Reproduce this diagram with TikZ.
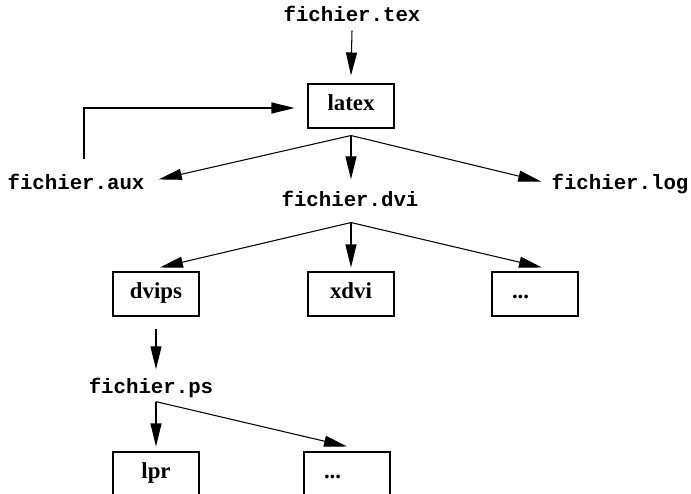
\documentclass[tikz,border=0pt]{standalone}
\usepackage{fontspec}
\setmainfont{Liberation Serif}
\setmonofont{Liberation Mono}
\usetikzlibrary{arrows.meta, positioning, calc}

\begin{document}
\begin{tikzpicture}[x=0.02cm, y=-0.02cm,
        prog/.style={draw, line width=0.6pt, inner sep=0pt, minimum width=1.72cm,
            minimum height=0.88cm, text height=0.7em, text depth=0.2em,
            font=\bfseries\fontsize{13}{15}\selectfont},
        more/.style={prog, text width=0.92cm, align=left, inner xsep=0.4cm},
        file/.style={inner sep=0pt, anchor=base, font=\ttfamily\bfseries\fontsize{11.8}{14}\selectfont},
        arr/.style={-{Triangle[length=0.46cm, width=0.22cm]}, line width=0.6pt}]
    \clip (0,0) rectangle (691,494);
    % compilation
    \node[file] (tex) at (352,21) {fichier.tex};
    \node[prog] (latex) at (351,106) {latex};
    \node[file] (aux) at (76,189) {fichier.aux};
    \node[file] (dvi) at (350,206) {fichier.dvi};
    \node[file] (log) at (620,189) {fichier.log};
    \coordinate (lout) at ([shift={(0,7)}]latex.south);
    \draw[arr] ([shift={(0,9)}]tex.south) -- ([shift={(0,-8)}]latex.north);
    \draw[arr] ([shift={(8,-14)}]aux.north) |- ([shift={(-13,2)}]latex.west);
    \draw[arr] (lout) -- ([shift={(14,-2)}]aux.east);
    \draw[arr] (lout) -- ([shift={(1,-11)}]dvi.north);
    \draw[arr] (lout) -- ([shift={(-10,-2)}]log.west);
    % viewers
    \node[prog] (dvips) at (156,294) {dvips};
    \node[prog] (xdvi) at (351,294) {xdvi};
    \node[more] (dots) at (535,294) {...};
    \coordinate (dout) at ([shift={(1,16)}]dvi.south);
    \draw[arr] (dout) -- ([shift={(4,-4)}]dvips.north);
    \draw[arr] (dout) -- ([shift={(0,-4)}]xdvi.north);
    \draw[arr] (dout) -- ([shift={(7,-4)}]dots.north);
    % printing
    \node[file] (ps) at (151,393) {fichier.ps};
    \draw[arr] ([shift={(0,12)}]dvips.south) -- ($(dvips.south |- ps.north)+(0,-8)$);
    \coordinate (pout) at ($(dvips.south |- ps.south)+(0,4)$);
    \node[prog] (lpr) at (156,474) {lpr};
    \node[more] (more) at (347,474) {...};
    \draw[arr] (pout) -- ([shift={(0,-5)}]lpr.north);
    \draw[arr] (pout) -- ([shift={(0,-5)}]more.north);
\end{tikzpicture}
\end{document}
